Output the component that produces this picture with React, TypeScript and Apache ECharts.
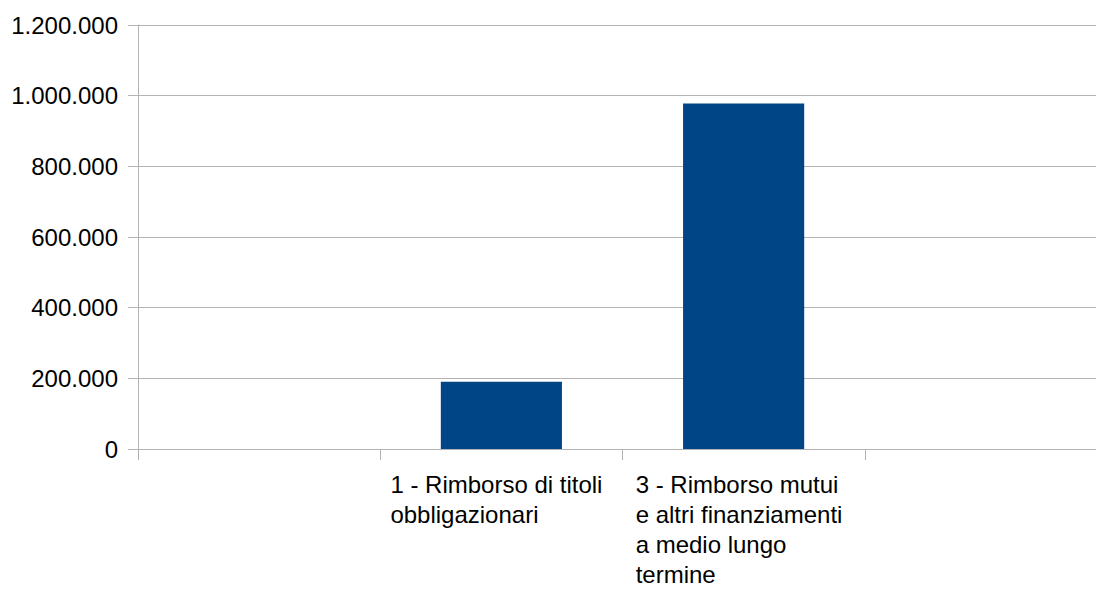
import React, { useEffect, useRef } from "react";
import * as echarts from "echarts";

const categories: string[] = [
  "",
  "1 - Rimborso di titoli\nobbligazionari",
  "3 - Rimborso mutui\ne altri finanziamenti\na medio lungo\ntermine",
  " ",
];
const values: (number | null)[] = [null, 190000, 978000, null];
const yTicks = { min: 0, max: 1200000, interval: 200000 };

function fmt(v: number): string {
  return String(Math.round(v)).replace(/\B(?=(\d{3})+(?!\d))/g, ".");
}

export default function App() {
  const ref = useRef<HTMLDivElement>(null);
  useEffect(() => {
    document.body.style.margin = "0";
    const chart = echarts.init(ref.current!, null, { renderer: "svg" });
    const font = "'Liberation Sans', Arial, sans-serif";
    const richBase = {
      align: "left",
      color: "#000000",
      fontFamily: font,
      fontSize: 24,
      lineHeight: 30,
    };
    chart.setOption({
      animation: false,
      backgroundColor: "#ffffff",
      grid: { left: 138, top: 25, width: 969, height: 424, containLabel: false },
      xAxis: {
        type: "category",
        data: categories,
        boundaryGap: true,
        axisLine: { show: true, lineStyle: { color: "#b3b3b3", width: 1 } },
        axisTick: { show: true, interval: 0, length: 11, lineStyle: { color: "#b3b3b3" } },
        axisLabel: {
          interval: 0,
          margin: 20,
          color: "#000000",
          fontFamily: font,
          fontSize: 24,
          lineHeight: 30,
          formatter: (v: string, i: number) => {
            const key = i === 1 ? "a" : "b";
            return v
              .split("\n")
              .map((l) => (l.trim() ? "{" + key + "|" + l + "}" : l))
              .join("\n");
          },
          rich: {
            a: { ...richBase, width: 222 },
            b: { ...richBase, width: 216 },
          },
        },
        splitLine: { show: false },
      },
      yAxis: {
        type: "value",
        min: yTicks.min,
        max: yTicks.max,
        interval: yTicks.interval,
        axisLine: { show: true, lineStyle: { color: "#b3b3b3", width: 1 } },
        axisTick: { show: true, length: 10, lineStyle: { color: "#b3b3b3" } },
        axisLabel: {
          margin: 20,
          color: "#000000",
          fontFamily: font,
          fontSize: 24,
          formatter: (v: number) => fmt(v),
        },
        splitLine: { show: true, lineStyle: { color: "#b3b3b3", width: 1 } },
      },
      series: [
        {
          type: "bar",
          data: values,
          barWidth: "50%",
          itemStyle: { color: "#004586" },
        },
      ],
    });
    return () => chart.dispose();
  }, []);
  return (
    <div style={{ width: 1096, height: 592, overflow: "hidden", position: "relative" }}>
      <div ref={ref} style={{ width: 1120, height: 592 }} />
    </div>
  );
}
